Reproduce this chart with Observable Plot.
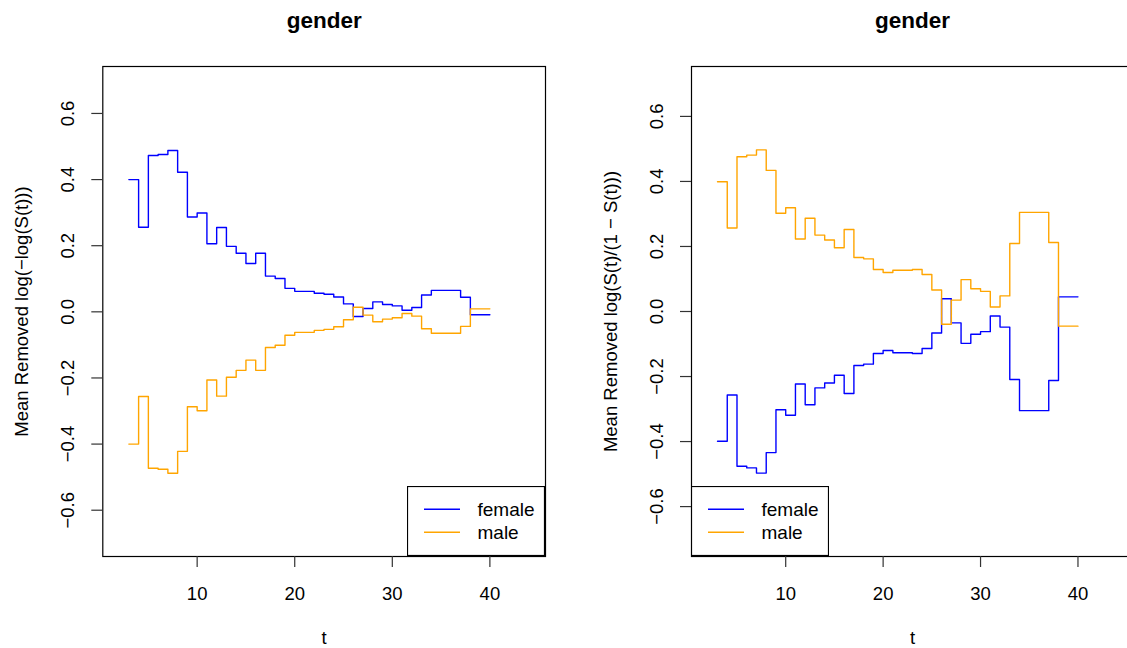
<!DOCTYPE html>
<html>
<head>
<meta charset="utf-8">
<script src="https://cdn.jsdelivr.net/npm/d3@7"></script>
<script src="https://cdn.jsdelivr.net/npm/@observablehq/plot@0.6"></script>
<style>
  html, body { margin: 0; padding: 0; background: #fff; overflow: hidden; }
  #wrap { position: relative; width: 1176px; height: 648px; font-family: "Liberation Sans", Arial, Helvetica, sans-serif; }
  .panel { position: absolute; top: 0; width: 588px; height: 648px; }
  .panel svg { display: block; }
  .legend { position: absolute; }
</style>
</head>
<body>
<div id="wrap"></div>
<script>
// ---- data ----
const times = [3,4,5,6,7,8,9,10,11,12,13,14,15,16,17,18,19,20,21,22,23,24,25,26,27,28,29,30,31,32,33,34,35,36,37,38,40];

const cloglogFemale = [0.400,0.256,0.473,0.476,0.488,0.422,0.287,0.299,0.206,0.255,0.198,0.177,0.146,0.177,0.108,0.101,0.071,0.062,0.062,0.056,0.053,0.045,0.024,-0.014,0.010,0.030,0.022,0.018,0.005,0.013,0.051,0.065,0.065,0.065,0.044,-0.009,-0.009];
const cloglogMale   = [-0.400,-0.256,-0.473,-0.476,-0.488,-0.422,-0.287,-0.299,-0.206,-0.255,-0.198,-0.177,-0.146,-0.177,-0.108,-0.101,-0.071,-0.062,-0.062,-0.056,-0.053,-0.045,-0.024,0.014,-0.010,-0.030,-0.022,-0.018,-0.005,-0.013,-0.051,-0.065,-0.065,-0.065,-0.044,0.009,0.009];

const logitFemale = [-0.399,-0.257,-0.476,-0.481,-0.497,-0.434,-0.302,-0.319,-0.223,-0.287,-0.235,-0.220,-0.196,-0.252,-0.166,-0.162,-0.129,-0.120,-0.127,-0.127,-0.129,-0.114,-0.066,0.039,-0.035,-0.098,-0.070,-0.062,-0.014,-0.048,-0.209,-0.305,-0.305,-0.305,-0.212,0.045,0.045];
const logitMale   = [0.399,0.257,0.476,0.481,0.497,0.434,0.302,0.319,0.223,0.287,0.235,0.220,0.196,0.252,0.166,0.162,0.129,0.120,0.127,0.127,0.129,0.114,0.066,-0.039,0.035,0.098,0.070,0.062,0.014,0.048,0.209,0.305,0.305,0.305,0.212,-0.045,-0.045];

const groups = ["female", "male"];
const groupColors = ["#0000FF", "#FFA500"];
const xTicks = [10, 20, 30, 40];
const yTicks = [-0.6, -0.4, -0.2, 0.0, 0.2, 0.4, 0.6];
const titles = ["gender", "gender"];
const yLabels = ["Mean Removed log(\u2212log(S(t)))", "Mean Removed log(S(t)/(1 \u2212 S(t)))"];
const xLabel = "t";

// ---- drawing ----
const FONT = "Liberation Sans, Arial, Helvetica, sans-serif";
const fmt = d3.format(".1f");

function makePanel({left, marginLeft, plotWidth, yDomain, female, male, title, yLabel, legendLeft}) {
  const W = 588, H = 648;
  const rowsF = times.map((t, i) => ({t, v: female[i], g: groups[0]}));
  const rowsM = times.map((t, i) => ({t, v: male[i], g: groups[1]}));
  const chart = Plot.plot({
    width: W, height: H,
    marginTop: 66, marginBottom: 92,
    marginLeft, marginRight: W - marginLeft - plotWidth,
    style: {fontFamily: FONT, background: "transparent"},
    x: {domain: [0.33, 45.7], label: null},
    y: {domain: yDomain, label: null},
    marks: [
      Plot.line(rowsF, {x: "t", y: "v", curve: "step-after", stroke: groupColors[0], strokeWidth: 1.4}),
      Plot.line(rowsM, {x: "t", y: "v", curve: "step-after", stroke: groupColors[1], strokeWidth: 1.4}),
      Plot.frame({stroke: "#000", strokeWidth: 1.2}),
      Plot.axisX({ticks: xTicks, tickSize: 11, tickFormat: () => "", label: null, stroke: "#333", strokeWidth: 1.2}),
      Plot.axisY({ticks: yTicks, tickSize: 11, tickFormat: () => "", label: null, stroke: "#333", strokeWidth: 1.2}),
      Plot.text(xTicks, {x: d => d, text: d => String(d), frameAnchor: "bottom", textAnchor: "middle", lineAnchor: "bottom", dy: 43.3, fontSize: 18.5, fill: "#000"}),
      Plot.text(yTicks, {y: d => d, text: d => fmt(d), frameAnchor: "left", textAnchor: "middle", rotate: -90, lineAnchor: "middle", dx: -34.5, fontSize: 18.5, fill: "#000"}),
      Plot.text([yLabel], {text: d => d, frameAnchor: "left", textAnchor: "middle", rotate: -90, lineAnchor: "middle", dx: -80.3, fontSize: 18.5, fill: "#000"}),
      Plot.text([xLabel], {text: d => d, frameAnchor: "bottom", textAnchor: "middle", lineAnchor: "bottom", dy: 87.5, fontSize: 18.5, fill: "#000"}),
      Plot.text([title], {text: d => d, frameAnchor: "top", textAnchor: "middle", lineAnchor: "bottom", dy: -38.5, fontSize: 22.5, fontWeight: "bold", fill: "#000"})
    ]
  });
  const div = document.createElement("div");
  div.className = "panel";
  div.style.left = left + "px";
  div.appendChild(chart);

  // legend box
  const lw = 138, lh = 70;
  const leg = d3.create("svg").attr("width", lw).attr("height", lh)
    .attr("class", "legend")
    .style("left", legendLeft + "px").style("top", "486px")
    .style("font-family", FONT);
  leg.append("rect").attr("x", 0.5).attr("y", 0.5).attr("width", lw - 1).attr("height", lh - 1)
    .attr("fill", "#fff").attr("stroke", "#000").attr("stroke-width", 1.2);
  groups.forEach((g, i) => {
    const yy = 23.3 + i * 23;
    leg.append("line").attr("x1", 17).attr("x2", 53).attr("y1", yy).attr("y2", yy)
      .attr("stroke", groupColors[i]).attr("stroke-width", 1.4);
    leg.append("text").attr("x", 70.5).attr("y", yy + 6.8).attr("font-size", 19).attr("fill", "#000").text(g);
  });
  div.appendChild(leg.node());
  return div;
}

const wrap = document.getElementById("wrap");
wrap.appendChild(makePanel({
  left: 0, marginLeft: 102.3, plotWidth: 442.7, yDomain: [-0.74, 0.742],
  female: cloglogFemale, male: cloglogMale, title: titles[0], yLabel: yLabels[0], legendLeft: 407.3
}));
wrap.appendChild(makePanel({
  left: 588, marginLeft: 103, plotWidth: 442, yDomain: [-0.7535, 0.7535],
  female: logitFemale, male: logitMale, title: titles[1], yLabel: yLabels[1], legendLeft: 103
}));
</script>
</body>
</html>
